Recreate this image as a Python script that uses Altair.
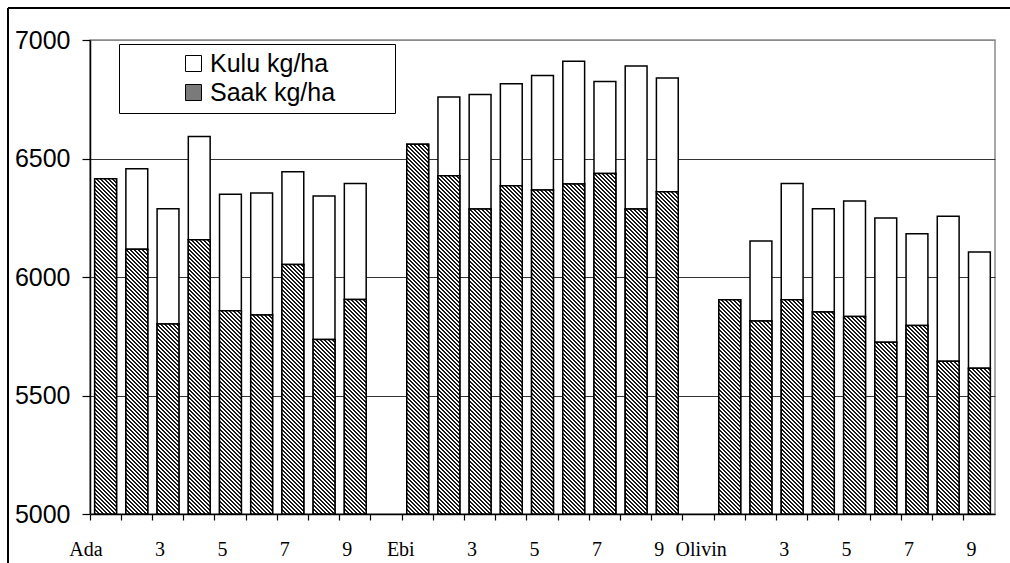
import altair as alt

# ---- data -------------------------------------------------------------
groups = ["Ada", "Ebi", "Olivin"]
treatments = ["", "2", "3", "4", "5", "6", "7", "8", "9"]   # first slot shows the variety name

saak_ada = [6415, 6117, 5802, 6157, 5858, 5840, 6053, 5736, 5905]
saak_ebi = [6560, 6427, 6287, 6385, 6367, 6392, 6437, 6287, 6360]
saak_olivin = [5904, 5814, 5904, 5852, 5833, 5725, 5795, 5645, 5615]

kulu_ada = [0, 340, 486, 436, 491, 514, 391, 606, 489]
kulu_ebi = [0, 333, 483, 430, 483, 518, 388, 603, 480]
kulu_olivin = [0, 338, 490, 436, 488, 524, 388, 611, 490]

y_ticks = [5000, 5500, 6000, 6500, 7000]

saak = [saak_ada, saak_ebi, saak_olivin]
kulu = [kulu_ada, kulu_ebi, kulu_olivin]

# ---- layout constants ------------------------------------------------
PLOT_W, PLOT_H = 905, 474
Y_MIN, Y_MAX = 5000, 7000
N_SLOTS = 29            # 3 x 9 bars + 2 empty separator slots
BAND = 0.7
BAR_W = PLOT_W / N_SLOTS * BAND
INK, PAPER = "#1a1a1a", "#ffffff"


def hatch_fill(height_px, width_px, period=4.0, dark=0.5):
    """Diagonal '\\' hatching built as a hard-stop linear gradient.

    The gradient is in bounding-box units, so its direction is skewed to
    keep the stripes at 45 degrees on screen for a bar of the given size.
    """
    span = width_px + height_px
    k = span / (width_px ** 2 + height_px ** 2)
    stops = []
    i = 0
    while i * period < span:
        a = i * period / span
        b = min((i * period + period * dark) / span, 1.0)
        c = min((i + 1) * period / span, 1.0)
        stops += [
            {"offset": round(a, 6), "color": INK},
            {"offset": round(b, 6), "color": INK},
            {"offset": round(b, 6), "color": PAPER},
            {"offset": round(c, 6), "color": PAPER},
        ]
        i += 1
    return {
        "gradient": "linear",
        "x1": 0, "y1": 1,
        "x2": round(k * width_px, 7), "y2": round(1 - k * height_px, 7),
        "stops": stops,
    }


# ---- tables ----------------------------------------------------------
seg_rows, hatch_rows = [], []
slot_labels = [""] * N_SLOTS
for gi, g in enumerate(groups):
    for j in range(9):
        slot = gi * 10 + j + 1
        slot_labels[slot - 1] = g if j == 0 else treatments[j]
        s, k_ = saak[gi][j], kulu[gi][j]
        seg_rows.append({"slot": slot, "series": "Saak kg/ha", "lo": Y_MIN, "hi": s})
        if k_ > 0:
            seg_rows.append({"slot": slot, "series": "Kulu kg/ha", "lo": s, "hi": s + k_})
        h_px = (s - Y_MIN) / (Y_MAX - Y_MIN) * PLOT_H
        hatch_rows.append({"slot": slot, "lo": Y_MIN, "hi": s, "hatch": hatch_fill(h_px, BAR_W)})

# only every second category is labelled
shown = [lab if (i % 2 == 0) else "" for i, lab in enumerate(slot_labels)]
label_expr = "[" + ",".join("'" + t + "'" for t in shown) + "][datum.value - 1]"

# ---- encodings -------------------------------------------------------
x_axis = alt.Axis(
    bandPosition=0, grid=False, labelExpr=label_expr, labelAngle=0,
    labelAlign="right", labelOffset=-3, labelBaseline="alphabetic", labelPadding=35,
    labelFont="Liberation Serif", labelFontSize=20, labelColor="black",
    labelOverlap=False, labelBound=False, labelFlush=False,
    tickSize=6, tickColor="black", tickWidth=1.2,
    domainColor="black", domainWidth=1.5, title=None,
)
y_axis = alt.Axis(
    values=y_ticks, format="d", tickSize=8, tickColor="black", tickWidth=1.2,
    domainColor="black", domainWidth=1.5,
    labelFont="Liberation Sans", labelFontSize=25, labelColor="black", labelPadding=12,
    grid=True, gridWidth=1.2,
    gridColor={"condition": {"test": "datum.value >= 7000", "value": "#8a8a8a"}, "value": "#333333"},
    title=None,
)
x_enc = alt.X("slot:O", scale=alt.Scale(domain=list(range(1, N_SLOTS + 1)),
                                         paddingInner=0, paddingOuter=0), axis=x_axis)
y_enc = alt.Y("hi:Q", scale=alt.Scale(domain=[Y_MIN, Y_MAX], nice=False, zero=False), axis=y_axis)

bar_style = dict(width=alt.RelativeBandSize(BAND), stroke="black", strokeWidth=1.5)

segments = alt.Chart(alt.Data(values=seg_rows)).mark_bar(**bar_style).encode(
    x=x_enc,
    y=y_enc,
    y2="lo:Q",
    color=alt.Color(
        "series:N",
        scale=alt.Scale(domain=["Kulu kg/ha", "Saak kg/ha"], range=["#ffffff", "#7a7a7a"]),
        legend=alt.Legend(
            title=" ", titleOrient="right", titlePadding=53,
            titleFont="Liberation Sans", titleFontSize=25,
            orient="none", legendX=29, legendY=4,
            fillColor="white", strokeColor="black", padding=7,
            symbolType="square", symbolSize=256, symbolStrokeColor="black",
            symbolStrokeWidth=1, symbolOffset=55, labelOffset=4,
            labelFont="Liberation Sans", labelFontSize=25, labelColor="black",
            rowPadding=3,
        ),
    ),
)

hatched = alt.Chart(alt.Data(values=hatch_rows)).mark_bar(**bar_style).encode(
    x=x_enc,
    y=y_enc,
    y2="lo:Q",
    fill=alt.Fill("hatch:N", scale=None),
)

one = alt.Data(values=[{"k": 0}])
frame_top = alt.Chart(one).mark_rule(color="black", strokeWidth=2).encode(
    x=alt.value(-82), x2=alt.value(930), y=alt.value(-32)
)
frame_left = alt.Chart(one).mark_rule(color="black", strokeWidth=2).encode(
    x=alt.value(-82), y=alt.value(-32), y2=alt.value(530)
)

chart = (
    alt.layer(segments, hatched, frame_top, frame_left)
    .properties(
        width=PLOT_W, height=PLOT_H,
        autosize=alt.AutoSizeParams(type="none"),
        padding={"left": 90, "top": 40, "right": 15, "bottom": 49},
        background="white",
    )
    .configure_view(stroke="#8a8a8a", strokeWidth=1.5)
)

chart.save("out.html", embed_options={"renderer": "svg", "actions": False})
